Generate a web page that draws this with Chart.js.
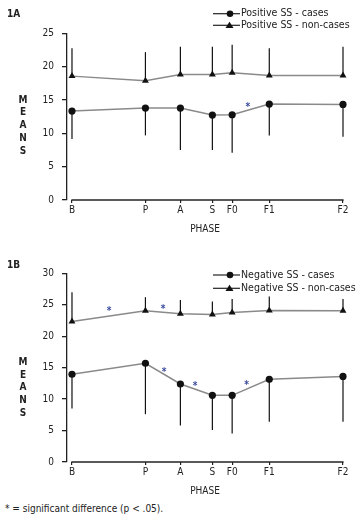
<!DOCTYPE html>
<html><head><meta charset="utf-8">
<script src="https://cdn.jsdelivr.net/npm/chart.js@4"></script>
<style>
html,body{margin:0;padding:0;background:#fff;width:357px;height:523px;overflow:hidden;}
#cA{position:absolute;left:0;top:0;}
#cB{position:absolute;left:0;top:240px;}
#note{position:absolute;left:5px;top:503px;font:10px 'DejaVu Sans Condensed','Liberation Sans',sans-serif;color:#222;white-space:nowrap;}
</style></head><body>
<canvas id="cA" width="357" height="240"></canvas>
<canvas id="cB" width="357" height="262"></canvas>
<div id="note">* = significant difference (p &lt; .05).</div>
<script>
const FONT = "'DejaVu Sans Condensed','Liberation Sans',sans-serif";
const phases = ['B','P','A','S','F0','F1','F2'];
const phaseX = [0, 27.1, 40.0, 51.8, 59.1, 72.8, 100];

// Panel 1A
const posCases     = [13.35, 13.8, 13.8, 12.75, 12.8, 14.4, 14.35];
const posCasesLow  = [9.15, 9.7, 7.5, 7.5, 7.1, 9.7, 9.5];
const posNon       = [18.6, 17.9, 18.85, 18.85, 19.1, 18.7, 18.7];
const posNonHigh   = [22.8, 22.2, 23.0, 23.0, 23.3, 22.8, 23.0];
const sigA = [{x: 64.9, y: 14.25}];

// Panel 1B
const negCases     = [13.95, 15.7, 12.4, 10.6, 10.6, 13.15, 13.6];
const negCasesLow  = [8.5, 7.6, 5.8, 5.1, 4.55, 6.4, 6.4];
const negNon       = [22.35, 24.05, 23.55, 23.45, 23.75, 24.1, 24.05];
const negNonHigh   = [27.0, 26.2, 25.75, 25.5, 25.9, 26.3, 25.9];
const sigB = [{x: 13.7, y: 24.3}, {x: 33.6, y: 24.7}, {x: 34.0, y: 14.7}, {x: 45.4, y: 12.35}, {x: 64.4, y: 12.6}];

const INK = '#222';

function makeDecor(cfg) {
  return {
    id: 'decor',
    beforeDatasetsDraw(chart) {
      const ctx = chart.ctx, xs = chart.scales.x, ys = chart.scales.y;
      ctx.save();
      ctx.strokeStyle = INK; ctx.lineWidth = 1.3;
      const yb = chart.chartArea.bottom;
      ctx.beginPath();
      ctx.moveTo(xs.getPixelForValue(phaseX[0]) - 0.6, yb);
      ctx.lineTo(xs.getPixelForValue(phaseX[phaseX.length - 1]) + 0.6, yb);
      ctx.stroke();
      ctx.lineWidth = 1.2; ctx.strokeStyle = '#111';
      cfg.errors.forEach((arr, di) => {
        const meta = chart.getDatasetMeta(di);
        meta.data.forEach((pt, j) => {
          ctx.beginPath();
          ctx.moveTo(pt.x, pt.y);
          ctx.lineTo(pt.x, ys.getPixelForValue(arr[j]));
          ctx.stroke();
        });
      });
      ctx.restore();
    },
    afterDraw(chart) {
      const ctx = chart.ctx, xs = chart.scales.x, ys = chart.scales.y;
      ctx.save();
      ctx.fillStyle = INK;
      ctx.font = 'bold 10px ' + FONT;
      ctx.textAlign = 'left'; ctx.textBaseline = 'middle';
      ctx.fillText(cfg.panel, 7, cfg.panelY);
      ctx.textAlign = 'center';
      'MEANS'.split('').forEach((ch, i) => ctx.fillText(ch, 23, cfg.meansTop + i * cfg.meansStep));
      ctx.font = '10.5px ' + FONT;
      cfg.legend.forEach((item, i) => {
        const y = cfg.legendY[i];
        ctx.strokeStyle = INK; ctx.lineWidth = 1.2;
        ctx.beginPath(); ctx.moveTo(213, y); ctx.lineTo(240, y); ctx.stroke();
        ctx.fillStyle = '#111';
        ctx.beginPath();
        if (item.marker === 'circle') {
          ctx.arc(230, y, 3.3, 0, Math.PI * 2);
        } else {
          ctx.moveTo(229.5, y - 3.6); ctx.lineTo(233.5, y + 2.6); ctx.lineTo(225.5, y + 2.6); ctx.closePath();
        }
        ctx.fill();
        ctx.fillStyle = INK;
        ctx.textAlign = 'left'; ctx.textBaseline = 'middle';
        ctx.fillText(item.text, 241, y);
      });
      ctx.fillStyle = '#3a4a9c';
      ctx.font = 'bold 10px ' + FONT;
      ctx.textAlign = 'center'; ctx.textBaseline = 'middle';
      cfg.sig.forEach(s => ctx.fillText('*', xs.getPixelForValue(s.x), ys.getPixelForValue(s.y) + 2.5));
      ctx.restore();
    }
  };
}

function makeChart(id, ymax, padTop, cases, casesLow, non, nonHigh, labels, cfg) {
  const lineStyle = {borderColor: '#8a8a8a', borderWidth: 1.5, tension: 0, clip: false,
    pointBackgroundColor: '#111', pointBorderColor: '#111', pointBorderWidth: 0};
  return new Chart(document.getElementById(id), {
    type: 'line',
    data: {datasets: [
      Object.assign({label: labels[0], data: phaseX.map((x, i) => ({x, y: cases[i]})),
        pointStyle: 'circle', pointRadius: 3.6}, lineStyle),
      Object.assign({label: labels[1], data: phaseX.map((x, i) => ({x, y: non[i]})),
        pointStyle: 'triangle', pointRadius: 4}, lineStyle)
    ]},
    options: {
      responsive: false, animation: false, devicePixelRatio: 1,
      layout: {padding: {top: padTop, right: 14, left: 0, bottom: 0}},
      plugins: {legend: {display: false}, tooltip: {enabled: false}},
      scales: {
        x: {
          type: 'linear', min: -1.84, max: 100,
          afterBuildTicks: s => { s.ticks = phaseX.map(v => ({value: v})); },
          afterFit: s => { s.height = 40; },
          ticks: {autoSkip: false, maxRotation: 0, padding: 1, color: INK,
            font: {family: FONT, size: 10},
            callback: (v, i) => phases[i]},
          grid: {drawOnChartArea: false, drawTicks: true, tickLength: 3, color: INK, lineWidth: 1.2},
          border: {display: false},
          title: {display: true, text: 'PHASE', color: INK, font: {family: FONT, size: 10},
            padding: {top: 0, bottom: 5}}
        },
        y: {
          min: 0, max: ymax,
          afterFit: s => { s.width = 67; },
          ticks: {stepSize: 5, padding: 8, color: INK, font: {family: FONT, size: 10}},
          grid: {drawOnChartArea: false, drawTicks: true, tickLength: 5, color: INK, lineWidth: 1.3},
          border: {display: true, color: INK, width: 1.3}
        }
      }
    },
    plugins: [makeDecor(Object.assign({errors: [casesLow, nonHigh]}, cfg))]
  });
}

makeChart('cA', 25, 33.5, posCases, posCasesLow, posNon, posNonHigh,
  ['Positive SS - cases', 'Positive SS - non-cases'],
  {panel: '1A', panelY: 14, meansTop: 100, meansStep: 12.75, legendY: [13.7, 25.3],
   legend: [{text: 'Positive SS - cases', marker: 'circle'}, {text: 'Positive SS - non-cases', marker: 'triangle'}],
   sig: sigA});

makeChart('cB', 30, 33.3, negCases, negCasesLow, negNon, negNonHigh,
  ['Negative SS - cases', 'Negative SS - non-cases'],
  {panel: '1B', panelY: 25, meansTop: 122.7, meansStep: 12.6, legendY: [35, 48.3],
   legend: [{text: 'Negative SS - cases', marker: 'circle'}, {text: 'Negative SS - non-cases', marker: 'triangle'}],
   sig: sigB});
</script>
</body></html>
